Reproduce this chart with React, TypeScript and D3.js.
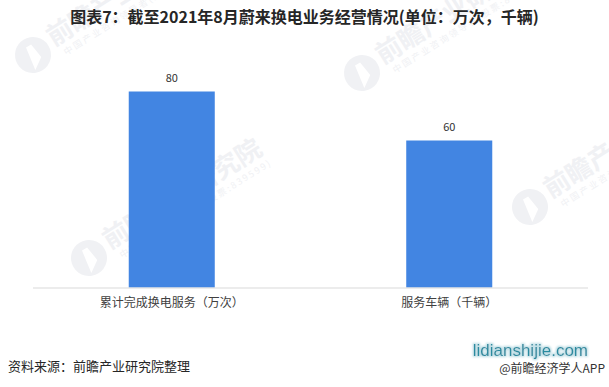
import React from "react";
import * as d3 from "d3";

const categories = ["累计完成换电服务（万次）", "服务车辆（千辆）"];
const values = [80, 60];
const title = "图表7：截至2021年8月蔚来换电业务经营情况(单位：万次，千辆)";
const sourceNote = "资料来源：前瞻产业研究院整理";
const siteMark = "lidianshijie.com";
const appMark = "@前瞻经济学人APP";
const watermarkText = "前瞻产业研究院";
const watermarkSub = "中国产业咨询领导者(股票:839599)";

const W = 609;
const H = 387;
const FONT = "'Noto Sans CJK SC', 'Microsoft YaHei', sans-serif";

const plot = { left: 33, right: 588, top: 67, bottom: 287.5 };

// faint brand marks in the background (circle logo + rotated text)
const marks = [
  { x: 33, y: 55 },
  { x: 362, y: 73 },
  { x: 89, y: 258 },
  { x: 530, y: 207 },
];

function Watermark({ x, y }: { x: number; y: number }) {
  return (
    <g transform={`translate(${x},${y}) rotate(-32)`}>
      <circle cx={0} cy={0} r={18} fill="#f0f1f4" />
      <path d="M-6,14 L-2,-10 L4,-10 L6,6 Z" fill="#ffffff" />
      <text x={22} y={4} fontSize={26} fontWeight={700} fill="#f0f1f4" fontFamily={FONT}>
        {watermarkText}
      </text>
      <text x={28} y={18} fontSize={9} fill="#f0f1f4" fontFamily={FONT} letterSpacing={2}>
        {watermarkSub}
      </text>
    </g>
  );
}

export default function App() {
  const x = d3
    .scaleBand<string>()
    .domain(categories)
    .range([plot.left, plot.right])
    .paddingInner(0.69)
    .paddingOuter(0.345);
  const y = d3.scaleLinear().domain([0, 90]).range([plot.bottom, plot.top]);

  return (
    <svg
      width={W}
      height={H}
      style={{ position: "absolute", left: 0, top: 0, background: "#fff" }}
    >
      <defs>
        <filter id="siteGlow" x="-10%" y="-30%" width="120%" height="160%">
          <feMorphology in="SourceAlpha" operator="dilate" radius={1.2} result="thick" />
          <feGaussianBlur in="thick" stdDeviation={0.8} result="blur" />
          <feFlood floodColor="#b9dbe3" />
          <feComposite in2="blur" operator="in" result="halo" />
          <feMerge>
            <feMergeNode in="halo" />
            <feMergeNode in="SourceGraphic" />
          </feMerge>
        </filter>
      </defs>
      <rect width={W} height={H} fill="#fff" />
      {marks.map((m, i) => (
        <Watermark key={i} x={m.x} y={m.y} />
      ))}

      <text
        x={W / 2}
        y={23}
        textAnchor="middle"
        fontSize={16}
        fontWeight={700}
        fill="#262626"
        fontFamily={FONT}
      >
        {title}
      </text>

      {categories.map((c, i) => {
        const bx = x(c)!;
        const by = y(values[i]);
        return (
          <g key={c}>
            <rect
              x={bx}
              y={by}
              width={x.bandwidth()}
              height={plot.bottom - by}
              fill="#4285e2"
            />
            <text
              x={bx + x.bandwidth() / 2}
              y={by - 10}
              textAnchor="middle"
              fontSize={11}
              fill="#333"
              fontFamily={FONT}
            >
              {values[i]}
            </text>
            <text
              x={bx + x.bandwidth() / 2}
              y={307}
              textAnchor="middle"
              fontSize={12}
              fill="#404040"
              fontFamily={FONT}
            >
              {c}
            </text>
          </g>
        );
      })}

      <line
        x1={plot.left}
        x2={plot.right}
        y1={plot.bottom + 0.5}
        y2={plot.bottom + 0.5}
        stroke="#d9d9d9"
        strokeWidth={1}
      />

      <text x={8} y={371} fontSize={13} fill="#262626" fontFamily={FONT}>
        {sourceNote}
      </text>
      <text
        x={588}
        y={356}
        textAnchor="end"
        fontSize={17}
        fill="#2b8ba0"
        fontFamily="'Liberation Sans', Arial, sans-serif"
        filter="url(#siteGlow)"
      >
        {siteMark}
      </text>
      <text x={605} y={373} textAnchor="end" fontSize={12} fill="#333" fontFamily={FONT}>
        {appMark}
      </text>
    </svg>
  );
}
